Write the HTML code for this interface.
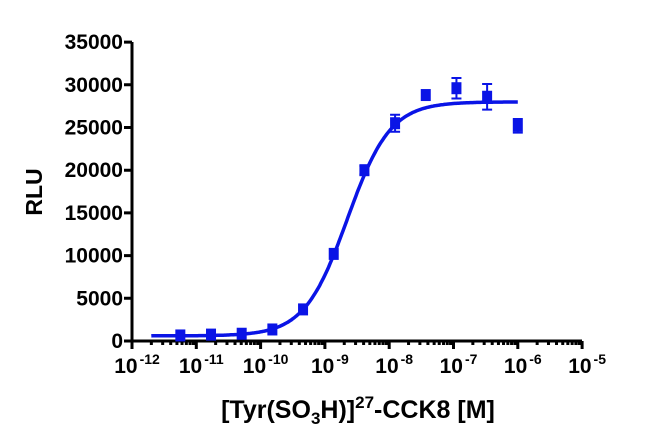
<!DOCTYPE html>
<html><head><meta charset="utf-8"><style>
body{margin:0;background:#fff}
svg{display:block;font-family:"Liberation Sans",Arial,sans-serif;font-weight:bold}
</style></head><body>
<svg id="s" width="650" height="447" viewBox="0 0 650 447" xmlns="http://www.w3.org/2000/svg">
<g id="ax" stroke="#000" stroke-width="3" fill="none"></g>
<g id="tx" font-size="21" fill="#000"></g>
<path id="curve" fill="none" stroke="#0a14e6" stroke-width="3.5"/>
<g id="pts" fill="#0a14e6" stroke="#0a14e6" stroke-width="2"></g>
<text x="42" y="192" font-size="23" text-anchor="middle" transform="rotate(-90 42 192)">RLU</text>
<text x="358" y="418" font-size="25" text-anchor="middle">[Tyr(SO<tspan font-size="17" dy="6">3</tspan><tspan dy="-6">H)]</tspan><tspan font-size="17" dy="-10">27</tspan><tspan dy="10">-CCK8 [M]</tspan></text>
</svg>
<script>
var NS="http://www.w3.org/2000/svg";
function el(p,t,a,txt){var e=document.createElementNS(NS,t);for(var k in a)e.setAttribute(k,a[k]);if(txt!=null)e.textContent=txt;document.getElementById(p).appendChild(e);return e;}
function X(l){return 132+(l+12)*64.3;}
function Y(v){return 341-v*0.00854;}
var d="M132,42 V341 H582";
for(var v=0;v<=35000;v+=5000){d+=" M124,"+Y(v)+" H132";el("tx","text",{x:123,y:Y(v)+7,"text-anchor":"end"},String(v));}
for(var e=-12;e<=-5;e++){d+=" M"+X(e)+",341 V349";
 var t=el("tx","text",{x:X(e)+5,y:373,"text-anchor":"middle"});t.innerHTML='10<tspan font-size="14" dy="-9" dx="2">'+e+'</tspan>';
 if(e<-5)for(var m=2;m<10;m++){var xx=X(e+Math.log10(m));d+=" M"+xx+",341 V345";}}
document.querySelector("#ax").appendChild(document.createElementNS(NS,"path"));
document.querySelector("#ax path").setAttribute("d",d);
var cp="";for(var l=-11.7;l<=-6.0;l+=0.02){var v=600+27400/(1+Math.pow(10,1.3*(-8.65-l)));cp+=(cp?" L":"M")+X(l).toFixed(1)+","+Y(v).toFixed(1);}
document.getElementById("curve").setAttribute("d",cp);
var vals=[650,750,850,1350,3700,10200,20000,25500,28800,29600,28600,25200];
var errs=[0,0,0,0,0,0,500,1000,0,1200,1500,800];
for(var i=0;i<12;i++){var l=-6-(11-i)*Math.log10(3);var x=X(l),y=Y(vals[i]);
 el("pts","rect",{x:x-5,y:y-6,width:10,height:12,stroke:"none"});
 if(errs[i]){var y1=Y(vals[i]+errs[i]),y2=Y(vals[i]-errs[i]);
  el("pts","path",{d:"M"+x+","+y1+" V"+y2+" M"+(x-5)+","+y1+" H"+(x+5)+" M"+(x-5)+","+y2+" H"+(x+5),fill:"none"});}}
</script>
</body></html>
